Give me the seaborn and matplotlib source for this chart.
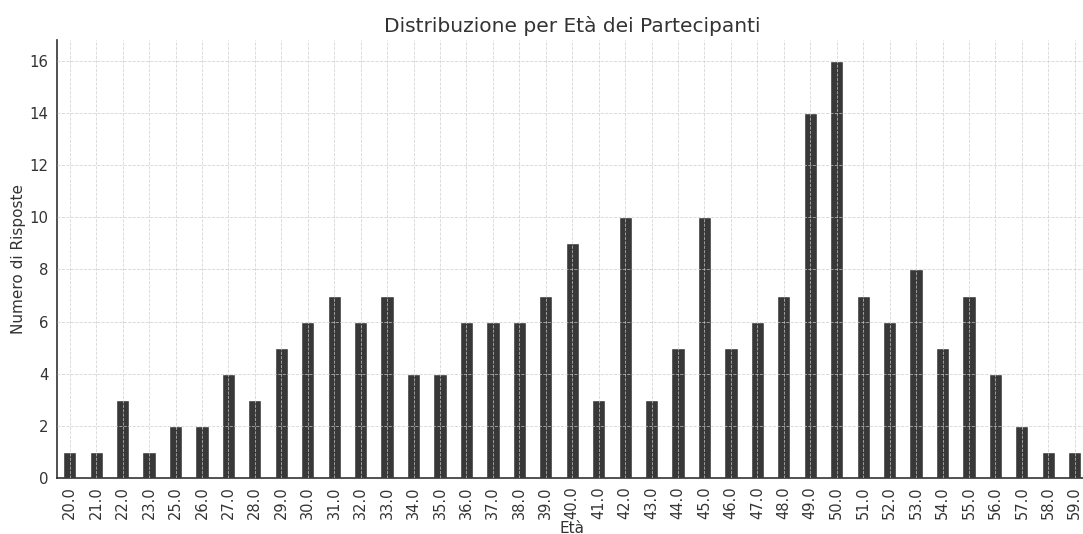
import pandas as pd
import seaborn as sns
import matplotlib.pyplot as plt

# eta' dei partecipanti (24 non compare) e numero di risposte
ages = [20, 21, 22, 23, 25, 26, 27, 28, 29, 30, 31, 32, 33, 34, 35, 36, 37, 38, 39,
        40, 41, 42, 43, 44, 45, 46, 47, 48, 49, 50, 51, 52, 53, 54, 55, 56, 57, 58, 59]
counts = [1, 1, 3, 1, 2, 2, 4, 3, 5, 6, 7, 6, 7, 4, 4, 6, 6, 6, 7,
          9, 3, 10, 3, 5, 10, 5, 6, 7, 14, 16, 7, 6, 8, 5, 7, 4, 2, 1, 1]
age_labels = [f'{float(a):.1f}' for a in ages]

df = pd.DataFrame({'eta': age_labels, 'risposte': counts})

sns.set_style('white')
plt.rcParams['font.family'] = ['DejaVu Sans']
plt.rcParams['text.color'] = '#333333'
plt.rcParams['axes.labelcolor'] = '#333333'
plt.rcParams['xtick.color'] = '#333333'
plt.rcParams['ytick.color'] = '#333333'

fig = plt.figure(figsize=(10.83, 5.34), dpi=100)
ax = fig.add_axes([56.5 / 1083, 56 / 534, (1088 - 56.5) / 1083, (478 - 40) / 534])

sns.barplot(data=df, x='eta', y='risposte', order=age_labels, color='#383838',
            width=0.5, saturation=1, ax=ax)

ax.set_xlim(-0.5, len(ages) - 0.5)
ax.set_ylim(0, 16.8)
ax.set_yticks(range(0, 17, 2))
ax.set_axisbelow(False)
ax.grid(True, linestyle='--', linewidth=0.6, color='#cccccc', alpha=0.8)

for side in ['top', 'right']:
    ax.spines[side].set_visible(False)
for side in ['left', 'bottom']:
    ax.spines[side].set_color('#333333')
    ax.spines[side].set_linewidth(1.2)

ax.tick_params(axis='x', rotation=90, labelsize=10.5, length=4, width=1, pad=2)
ax.tick_params(axis='y', labelsize=10.7, length=4, width=1, pad=2)

ax.set_title('Distribuzione per Età dei Partecipanti', fontsize=14.5, pad=6)
ax.set_xlabel('Età', fontsize=11, labelpad=1)
ax.set_ylabel('Numero di Risposte', fontsize=11, labelpad=2)

fig.savefig('out.png', dpi=100)
